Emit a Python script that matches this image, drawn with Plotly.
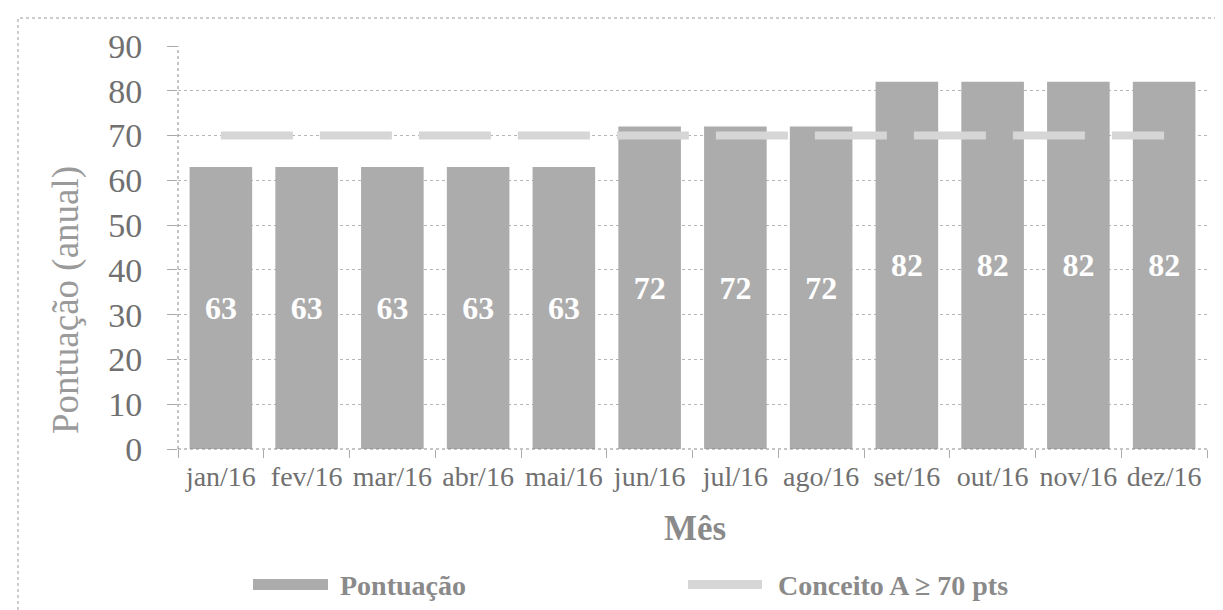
import plotly.graph_objects as go

months = ["jan/16", "fev/16", "mar/16", "abr/16", "mai/16", "jun/16",
          "jul/16", "ago/16", "set/16", "out/16", "nov/16", "dez/16"]
pontuacao = [63, 63, 63, 63, 63, 72, 72, 72, 82, 82, 82, 82]
conceito_a = [70, 70, 70, 70, 70, 70, 70, 70, 70, 70, 70, 70]
y_ticks = [0, 10, 20, 30, 40, 50, 60, 70, 80, 90]

W, H = 1223, 610
L, R, T, B = 170, 24, 38, 169
PW = W - L - R
PH = H - T - B


def px_x(x):
    return (x - L) / PW


def px_y(y):
    return (H - B - y) / PH


SERIF = "Liberation Serif, Times New Roman, serif"
BAR_COLOR = "#acacac"
LINE_COLOR = "#d6d6d6"
TEXT_COLOR = "#707070"

fig = go.Figure()
fig.add_trace(go.Bar(
    x=months, y=pontuacao, name="Pontuação",
    marker=dict(color=BAR_COLOR, line=dict(width=0)),
    text=pontuacao, textposition="inside", insidetextanchor="middle",
    textangle=0, constraintext="none",
    textfont=dict(family=SERIF, size=32, color="white", weight="bold"),
    showlegend=False, hoverinfo="x+y",
))
fig.add_trace(go.Scatter(
    x=months, y=conceito_a, name="Conceito A ≥ 70 pts", mode="lines",
    line=dict(color=LINE_COLOR, width=8, dash="72px,27px"),
    showlegend=False,
))

shapes = [
    dict(type="rect", xref="paper", yref="paper",
         x0=px_x(10), x1=px_x(1219), y0=px_y(603), y1=px_y(10),
         line=dict(color="#9a9a9a", width=1, dash="dot"), layer="below"),
    dict(type="line", xref="paper", yref="paper", x0=0, x1=0, y0=0, y1=1,
         line=dict(color="#8a8a8a", width=1, dash="dot")),
    dict(type="line", xref="paper", yref="paper", x0=0, x1=1, y0=0, y1=0,
         line=dict(color="#8a8a8a", width=1, dash="dot")),
    dict(type="rect", xref="paper", yref="paper",
         x0=px_x(245), x1=px_x(320), y0=px_y(582), y1=px_y(571),
         fillcolor=BAR_COLOR, line=dict(width=0)),
    dict(type="rect", xref="paper", yref="paper",
         x0=px_x(680), x1=px_x(754), y0=px_y(581), y1=px_y(572),
         fillcolor=LINE_COLOR, line=dict(width=0)),
]

annotations = [
    dict(text="Pontuação (anual)", xref="paper", yref="paper",
         x=px_x(58), y=px_y(292), textangle=-90, showarrow=False,
         xanchor="center", yanchor="middle",
         font=dict(family=SERIF, size=37, color="#9a9a9a")),
    dict(text="<b>Mês</b>", xref="paper", yref="paper",
         x=px_x(687), y=px_y(520), showarrow=False,
         xanchor="center", yanchor="middle",
         font=dict(family=SERIF, size=35, color="#8a8a8a")),
    dict(text="<b>Pontuação</b>", xref="paper", yref="paper",
         x=px_x(330), y=px_y(577), showarrow=False,
         xanchor="left", yanchor="middle",
         font=dict(family=SERIF, size=28, color="#8a8a8a")),
    dict(text="<b>Conceito A ≥ 70 pts</b>", xref="paper", yref="paper",
         x=px_x(768), y=px_y(577), showarrow=False,
         xanchor="left", yanchor="middle",
         font=dict(family=SERIF, size=28, color="#8a8a8a")),
]

fig.update_layout(
    width=W, height=H,
    margin=dict(l=L, r=R, t=T, b=B, autoexpand=False),
    paper_bgcolor="white", plot_bgcolor="white",
    bargap=0.27,
    showlegend=False,
    shapes=shapes,
    annotations=annotations,
    xaxis=dict(
        type="category", showgrid=False, showline=False, zeroline=False,
        ticks="outside", tickson="boundaries", ticklen=8, tickcolor="#aaaaaa",
        tickangle=0, automargin=False,
        tickfont=dict(family=SERIF, size=28, color=TEXT_COLOR),
        ticklabelstandoff=8,
    ),
    yaxis=dict(
        range=[0, 90], tickvals=y_ticks, showline=False, zeroline=False,
        showgrid=True, gridcolor="#b5b5b5", gridwidth=1, griddash="dot",
        ticks="outside", ticklen=10, tickcolor="#aaaaaa", automargin=False,
        tickfont=dict(family=SERIF, size=34, color=TEXT_COLOR),
        ticklabelstandoff=18,
    ),
)

fig.write_html("out.html")
